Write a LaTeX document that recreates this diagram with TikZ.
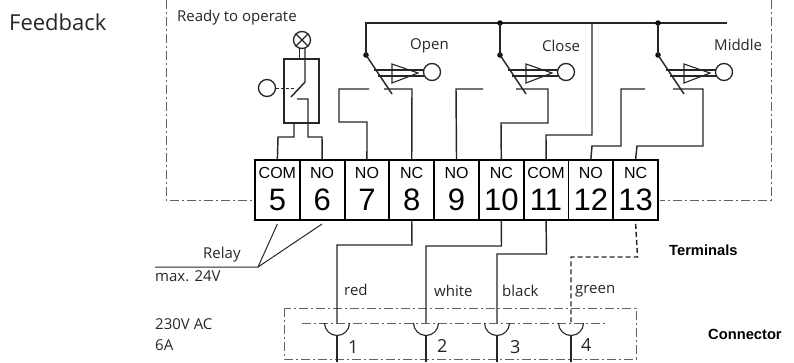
\documentclass[tikz,border=0pt]{standalone}
\usepackage{fontspec}
\setmainfont{Open Sans}
\newfontfamily\arialfont{Liberation Sans}
\usetikzlibrary{positioning,calc}
\definecolor{framegray}{gray}{0.38}
\tikzset{
  wire/.style={line width=1.45pt,black!85},
  frameline/.style={line width=1pt,framegray,dash pattern=on 9pt off 3pt on 2pt off 3pt},
  terminal/.style={draw=black,line width=1.9pt,minimum width=44.8pt,minimum height=60pt,inner sep=0pt,anchor=north},
  lbl/.style={anchor=west,inner sep=0pt,font=\fontsize{15}{17}\selectfont,text=black!85},
  numlbl/.style={lbl,font=\fontsize{18}{20}\selectfont},
  boldlbl/.style={anchor=west,inner sep=0pt,font=\arialfont\bfseries\fontsize{14.7}{16}\selectfont},
  ring/.style={draw=black!85,line width=1.3pt,circle,minimum size=17pt,inner sep=0pt},
  joint/.style={fill=black,circle,minimum size=5.5pt,inner sep=0pt}
}
\begin{document}
\begin{tikzpicture}[x=1pt,y=-1pt]
\useasboundingbox (0,0) rectangle (794,362);
% frames
\draw[frameline] (166,0) -- (166,200) -- (252,200);
\draw[frameline] (771,0) -- (771,200) -- (660,200);
\draw[frameline] (284,308) rectangle (636,359);
\draw[frameline] (302,323) -- (605,323);
% terminal block
\foreach \n/\t [count=\i from 0] in {5/COM,6/NO,7/NO,8/NC,9/NO,10/NC,11/COM,12/NO,13/NC} {
  \node[terminal] (t\n) at ({277.4+44.78*\i},159) {};
  \node[font=\arialfont\fontsize{16}{17}\selectfont,inner sep=0pt] at ($(t\n.north)+(0,14)$) {\t};
  \node[font=\arialfont\fontsize{31}{32}\selectfont,inner sep=0pt] at ($(t\n.north)+(0,41)$) {\n};
}
% relay
\node[ring] (lamp) at (302,40) {};
\draw[wire,line width=1.1pt] (lamp.south west) -- (lamp.north east) (lamp.north west) -- (lamp.south east);
\draw[wire] (284,59) rectangle (319,123);
\node[ring] (relaycoil) at (267,88) {};
\draw[wire,densely dashed,line width=1pt] (relaycoil.east) -- (296,88);
\draw[wire,line width=1pt] (299.5,48) -- (299.5,59);
\draw[wire] (305,48) -- (305,82) -- (291,97);
\draw[wire] (297,99) -- (308,99) |- (322,137) -- (t6.north);
\draw[wire] (294,123) |- (278,137) -- (t5.north);
% switches
\foreach \sx/\nm in {0/a,134/b,292/c} {
  \begin{scope}[xshift=\sx pt]
  \node[joint] (dot\nm) at (366,55) {};
  \node[ring] (act\nm) at (432,72) {};
  \draw[wire] (dot\nm.center) -- (392,94);
  \draw[wire,line width=1.1pt] (374,70) -- (424,70) (378,76) -- (424,76);
  \draw[line width=1.1pt,draw=black!85] (392,64) -- (392,83) -- (418,73) -- cycle;
  \end{scope}
}
\draw[wire] (dota.center) -- (366,23) -- (727,23);
\node[joint] (topb) at (500,23) {};
\node[joint] (topc) at (658,23) {};
\draw[wire] (topb.center) -- (dotb.center);
\draw[wire] (topc.center) -- (dotc.center);
% contacts
\draw[wire] (369,89) -- (339,89) -- (339,122) -- (367,122) -- (t7.north);
\draw[wire] (384,89) -- (412,89) -- (t8.north);
\draw[wire] (483,89) -- (456,89) -- (t9.north);
\draw[wire] (516,89) -- (548,89) -- (548,123) -- (501,123) -- (t10.north);
\draw[wire] (592,23) -- (592,135) -- (546,135) -- (t11.north);
\draw[wire] (645,89) -- (621,89) -- (621,146) -- (592,146) -- (t12.north);
\draw[wire] (673,89) -- (703,89) -- (703,146) -- (637,146) -- (t13.north);
% relay note
\coordinate (relayfork) at (258,267);
\draw[black!85,line width=1pt] (155,267) -- (relayfork) -- ($(t5.south)+(0,3)$);
\draw[black!85,line width=1pt] (relayfork) -- ($(t6.south)+(0,3)$);
% cable
\foreach \x/\c in {337/a,426/b,497/c,571/d} {
  \coordinate (pin\c) at (\x,323);
  \draw[wire,line width=1.1pt] (\x-12.5,323) arc[start angle=180,end angle=0,radius=12.5];
  \draw[wire] (\x,335.5) -- (\x,362);
}
\draw[wire] (t8.south) -- (412,245) -- (337,245) -- (pina);
\draw[wire] (t10.south) -- (501.5,246) -- (426,246) -- (pinb);
\draw[wire] (t11.south) -- (546.5,254) -- (497,254) -- (pinc);
\draw[wire,dash pattern=on 5pt off 3pt] ($(t13.south)+(0,3)$) -- (637.5,257) -- (571,257) -- (pind);
% texts
\node[anchor=west,inner sep=0pt,font=\fontsize{22}{24}\selectfont,text=black!85] (feedback) at (9,22) {Feedback};
\node[lbl] (ready) at (177,18) {Ready to operate};
\node[lbl] (open) at (410,46) {Open};
\node[lbl] (close) at (542,46) {Close};
\node[lbl] (middle) at (714,45) {Middle};
\node[lbl] (relay) at (203,255) {Relay};
\node[lbl] (maxv) at (155,276) {max. 24V};
\node[lbl] (acv) at (155,324) {230V AC};
\node[lbl] (amps) at (155,345) {6A};
\node[lbl] (red) at (344,290) {red};
\node[lbl] (white) at (434,291) {white};
\node[lbl] (black) at (502,291) {black};
\node[lbl] (green) at (575,291) {green};
\node[numlbl] (n1) at (348,347) {1};
\node[numlbl] (n2) at (437,346) {2};
\node[numlbl] (n3) at (510,347) {3};
\node[numlbl] (n4) at (581,345) {4};
\node[boldlbl] (terminals) at (669,250) {Terminals};
\node[boldlbl] (connector) at (708,334) {Connector};
\end{tikzpicture}
\end{document}
